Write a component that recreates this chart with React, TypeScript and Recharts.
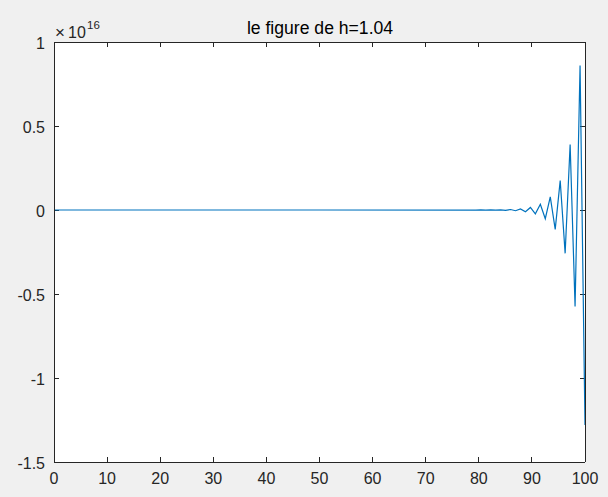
import React from 'react';
import { LineChart, Line, XAxis, YAxis, ReferenceLine } from 'recharts';

// sample positions (x) and values in units of 1e16 (y)
const xValues = [
  0, 50, 79.44, 80.37, 81.31, 82.24, 83.18, 84.11, 85.05, 85.98, 86.92, 87.85,
  88.79, 89.72, 90.65, 91.59, 92.52, 93.46, 94.39, 95.33, 96.26, 97.2, 98.13,
  99.07, 100,
];
const yValues = [
  0, 0, -0.0002, 0.0003, -0.0004, 0.0006, -0.0009, 0.0013, -0.002, 0.003,
  -0.0044, 0.0066, -0.01, 0.015, -0.023, 0.034, -0.052, 0.078, -0.115, 0.175,
  -0.258, 0.39, -0.575, 0.86, -1.28,
];
const xTicks = [0, 10, 20, 30, 40, 50, 60, 70, 80, 90, 100];
const yTicks = [-1.5, -1, -0.5, 0, 0.5, 1];

const chartData = xValues.map((x, i) => ({ x, y: yValues[i] }));

const X_MIN = 0;
const X_MAX = 100;
const Y_MIN = -1.5;
const Y_MAX = 1;
// inward tick length (~5px) expressed in axis units
const X_TICK_LEN = 0.94;
const Y_TICK_LEN = 0.03;

const AXIS = '#262626';
const FONT = '"Liberation Sans", Arial, sans-serif';
const axisLineStyle = { stroke: AXIS, strokeWidth: 1, shapeRendering: 'crispEdges' };

const BottomTick = (props: any) => {
  const { x, y, payload } = props;
  return (
    <text x={x} y={y + 22} textAnchor="middle" fontSize={16} fill={AXIS} fontFamily={FONT}>
      {payload.value}
    </text>
  );
};

const LeftTick = (props: any) => {
  const { x, y, payload } = props;
  return (
    <text x={x - 9} y={y + 7} textAnchor="end" fontSize={16} fill={AXIS} fontFamily={FONT}>
      {String(payload.value)}
    </text>
  );
};

export default function App() {
  return (
    <div style={{ position: 'absolute', left: 0, top: 0, width: 608, height: 497, background: '#f0f0f0' }}>
      {/* white axes area behind the chart */}
      <div style={{ position: 'absolute', left: 54, top: 42, width: 531, height: 420, background: '#ffffff' }} />
      <div style={{ position: 'absolute', left: 0, top: 0 }}>
        <LineChart
          width={608}
          height={497}
          data={chartData}
          margin={{ top: 41, right: 22, bottom: 0, left: 0 }}
        >
          <XAxis
            dataKey="x"
            type="number"
            domain={[X_MIN, X_MAX]}
            ticks={xTicks}
            height={35}
            tickSize={0}
            tickMargin={0}
            tickLine={false}
            tick={<BottomTick />}
            axisLine={axisLineStyle}
            allowDataOverflow
          />
          <XAxis
            xAxisId="top"
            orientation="top"
            dataKey="x"
            type="number"
            domain={[X_MIN, X_MAX]}
            height={1}
            tickLine={false}
            tick={false}
            axisLine={axisLineStyle}
            allowDataOverflow
          />
          <YAxis
            type="number"
            domain={[Y_MIN, Y_MAX]}
            ticks={yTicks}
            width={54}
            tickSize={0}
            tickMargin={0}
            tickLine={false}
            tick={<LeftTick />}
            axisLine={axisLineStyle}
            allowDataOverflow
          />
          <YAxis
            yAxisId="right"
            orientation="right"
            type="number"
            domain={[Y_MIN, Y_MAX]}
            width={1}
            tickLine={false}
            tick={false}
            axisLine={axisLineStyle}
            allowDataOverflow
          />
          {/* inward tick marks on all four sides of the box */}
          {xTicks.map((t) => (
            <ReferenceLine
              key={`xb${t}`}
              segment={[{ x: t, y: Y_MIN }, { x: t, y: Y_MIN + Y_TICK_LEN }]}
              stroke={AXIS}
              shapeRendering="crispEdges"
              ifOverflow="visible"
            />
          ))}
          {xTicks.map((t) => (
            <ReferenceLine
              key={`xt${t}`}
              segment={[{ x: t, y: Y_MAX }, { x: t, y: Y_MAX - Y_TICK_LEN }]}
              stroke={AXIS}
              shapeRendering="crispEdges"
              ifOverflow="visible"
            />
          ))}
          {yTicks.map((t) => (
            <ReferenceLine
              key={`yl${t}`}
              segment={[{ x: X_MIN, y: t }, { x: X_MIN + X_TICK_LEN, y: t }]}
              stroke={AXIS}
              shapeRendering="crispEdges"
              ifOverflow="visible"
            />
          ))}
          {yTicks.map((t) => (
            <ReferenceLine
              key={`yr${t}`}
              segment={[{ x: X_MAX, y: t }, { x: X_MAX - X_TICK_LEN, y: t }]}
              stroke={AXIS}
              shapeRendering="crispEdges"
              ifOverflow="visible"
            />
          ))}
          <Line
            type="linear"
            dataKey="y"
            stroke="#0072BD"
            strokeWidth={1.2}
            dot={false}
            isAnimationActive={false}
          />
        </LineChart>
      </div>
      <svg width={608} height={497} style={{ position: 'absolute', left: 0, top: 0, pointerEvents: 'none' }}>
        <text x={320} y={34} textAnchor="middle" fontSize={17.6} fill="#000" fontFamily={FONT}>
          le figure de h=1.04
        </text>
        <text x={55} y={38} fontSize={17} fill={AXIS} fontFamily={FONT}>
          ×
        </text>
        <text x={68} y={38} fontSize={16} fill={AXIS} fontFamily={FONT}>
          10
        </text>
        <text x={87} y={29} fontSize={11.5} fill={AXIS} fontFamily={FONT}>
          16
        </text>
      </svg>
    </div>
  );
}
